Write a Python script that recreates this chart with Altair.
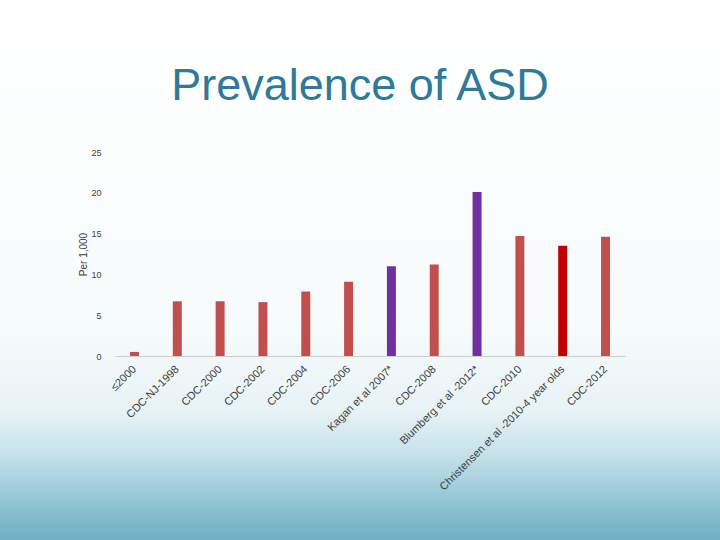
import altair as alt
import pandas as pd

studies = ["≤2000", "CDC-NJ-1998", "CDC-2000", "CDC-2002", "CDC-2004", "CDC-2006",
           "Kagan et al 2007*", "CDC-2008", "Blumberg et al -2012*", "CDC-2010",
           "Christensen et al -2010-4 year olds", "CDC-2012"]
per_1000 = [0.5, 6.7, 6.7, 6.6, 7.9, 9.1, 11.0, 11.2, 20.1, 14.7, 13.5, 14.6]
groups = ["CDC", "CDC", "CDC", "CDC", "CDC", "CDC", "Survey", "CDC", "Survey", "CDC", "Christensen", "CDC"]
title_text = ["Prevalence of ASD"]

df = pd.DataFrame({"study": studies, "value": per_1000, "group": groups})
bg = pd.DataFrame({"k": [0]})
tdf = pd.DataFrame({"t": title_text})

background = alt.Chart(bg).mark_rect(clip=False).encode(
    x=alt.value(-115), x2=alt.value(605), y=alt.value(-152), y2=alt.value(388),
    fill=alt.value(alt.Gradient(
        gradient="linear", x1=0, x2=0, y1=0, y2=1,
        stops=[alt.GradientStop(offset=0, color="#ffffff"),
               alt.GradientStop(offset=0.6, color="#f7fbfc"),
               alt.GradientStop(offset=0.76, color="#e8f3f6"),
               alt.GradientStop(offset=0.84, color="#c6e1e9"),
               alt.GradientStop(offset=0.92, color="#96c8d6"),
               alt.GradientStop(offset=1, color="#6eafc3")]))
)

title = alt.Chart(tdf).mark_text(
    font="Liberation Sans", fontSize=45, color="#2e7a98", align="center",
    baseline="alphabetic", clip=False
).encode(x=alt.value(245), y=alt.value(-52), text="t:N")

bars = alt.Chart(df).mark_bar().encode(
    x=alt.X("study:N", sort=studies,
            scale=alt.Scale(paddingInner=0.79, paddingOuter=0.35),
            axis=alt.Axis(title=None, labelAngle=-45, labelFontSize=11,
                          labelColor="#404040", labelFont="Liberation Sans",
                          domainColor="#cccccc", ticks=False, labelPadding=7,
                          labelOffset=-4, zindex=1)),
    y=alt.Y("value:Q", scale=alt.Scale(domain=[0, 25]),
            axis=alt.Axis(title="Per 1,000", values=[0, 5, 10, 15, 20, 25],
                          titleFontSize=10, titleFontWeight="normal",
                          titleColor="#404040", titleFont="Liberation Sans",
                          labelFontSize=9, labelColor="#404040",
                          labelFont="Liberation Sans", domain=False,
                          ticks=False, grid=False, labelPadding=14, titlePadding=2,
                          zindex=1)),
    color=alt.Color("group:N",
                    scale=alt.Scale(domain=["CDC", "Survey", "Christensen"],
                                    range=["#c0504d", "#7030a0", "#c00000"]),
                    legend=None)
)

chart = alt.layer(background, title, bars).properties(
    width=510, height=204,
    autosize=alt.AutoSizeParams(type="none"),
    padding={"left": 115, "top": 152, "right": 95, "bottom": 184},
    background="#ffffff"
).configure_view(stroke=None)

chart.save("out.html", embed_options={"renderer": "svg", "actions": False})
